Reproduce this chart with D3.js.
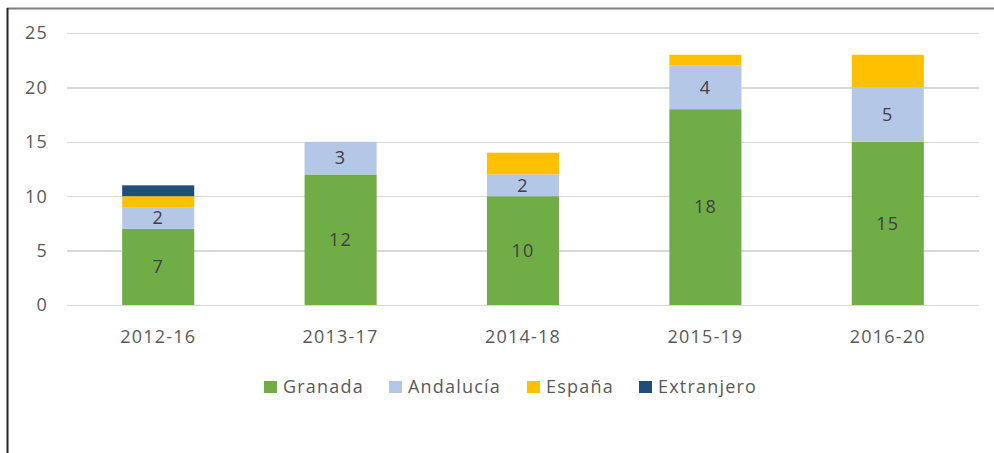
<!DOCTYPE html>
<meta charset="utf-8">
<script src="https://d3js.org/d3.v7.min.js"></script>
<style>
  body { margin: 0; background: #fff; }
  text { font-family: "Open Sans", "DejaVu Sans", sans-serif; fill: #595959; font-size: 18px; letter-spacing: 1.2px; }
  .grid line { stroke: #d9d9d9; stroke-width: 1.5px; shape-rendering: crispEdges; }
  .grid path { stroke-width: 0; }
</style>
<div id="chart"></div>
<script>
  // data
  var periods = ["2012-16", "2013-17", "2014-18", "2015-19", "2016-20"];
  var granada    = [7, 12, 10, 18, 15];
  var andalucia  = [2, 3, 2, 4, 5];
  var espana     = [1, 0, 2, 1, 3];
  var extranjero = [1, 0, 0, 0, 0];
  var seriesNames = ["Granada", "Andalucía", "España", "Extranjero"];
  var colors = ["#70ad47", "#b4c7e7", "#ffc000", "#1f4e79"];
  var yTicks = [0, 5, 10, 15, 20, 25];

  var W = 994, H = 453;
  var margin = {top: 33, right: 15, bottom: 148, left: 67};
  var width = W - margin.left - margin.right,
      height = H - margin.top - margin.bottom;

  var svg = d3.select("#chart").append("svg")
      .attr("width", W).attr("height", H);

  // frame
  svg.append("line").attr("x1", 7).attr("x2", W).attr("y1", 8.5).attr("y2", 8.5)
    .attr("stroke", "#7f7f7f").attr("stroke-width", 2);
  svg.append("line").attr("x1", 7.5).attr("x2", 7.5).attr("y1", 8).attr("y2", H)
    .attr("stroke", "#262626").attr("stroke-width", 2);

  var g = svg.append("g").attr("transform", "translate(" + margin.left + "," + margin.top + ")");

  var rows = periods.map(function(p, i) {
    return {period: p, Granada: granada[i], "Andalucía": andalucia[i],
            "España": espana[i], Extranjero: extranjero[i]};
  });
  var stack = d3.stack().keys(seriesNames)(rows);

  var x = d3.scaleBand().domain(periods).range([0, width])
      .paddingInner(0.605).paddingOuter(0.3025);
  var y = d3.scaleLinear().domain([0, 25]).range([height, 0]);

  // gridlines
  g.append("g").attr("class", "grid")
    .call(d3.axisLeft(y).tickValues(yTicks).tickSize(-width).tickFormat(""));

  // y labels
  g.append("g").selectAll("text").data(yTicks).enter().append("text")
    .attr("x", -19).attr("y", function(d) { return y(d); })
    .attr("dy", "0.35em").attr("text-anchor", "end")
    .text(function(d) { return d; });

  // bars
  var layers = g.selectAll(".layer").data(stack).enter().append("g")
    .attr("fill", function(d, i) { return colors[i]; });
  layers.selectAll("rect").data(function(d) { return d; }).enter().append("rect")
    .attr("x", function(d) { return x(d.data.period); })
    .attr("width", x.bandwidth())
    .attr("y", function(d) { return y(d[1]); })
    .attr("height", function(d) { return y(d[0]) - y(d[1]); });

  // value labels on Granada and Andalucía
  stack.slice(0, 2).forEach(function(s) {
    g.selectAll(null).data(s).enter().append("text")
      .attr("x", function(d) { return x(d.data.period) + x.bandwidth() / 2; })
      .attr("y", function(d) { return (y(d[0]) + y(d[1])) / 2; })
      .attr("dy", "0.35em").attr("text-anchor", "middle")
      .style("fill", "#404040")
      .text(function(d) { return d[1] - d[0]; });
  });

  // x labels
  g.append("g").selectAll("text").data(periods).enter().append("text")
    .attr("x", function(d) { return x(d) + x.bandwidth() / 2; })
    .attr("y", height + 32).attr("dy", "0.35em").attr("text-anchor", "middle")
    .text(function(d) { return d; });

  // legend
  var legendX = [264, 389, 527, 639];
  var leg = svg.append("g").selectAll("g").data(seriesNames).enter().append("g")
    .attr("transform", function(d, i) { return "translate(" + legendX[i] + ",387)"; });
  leg.append("rect").attr("x", 0).attr("y", -6).attr("width", 13).attr("height", 12)
    .attr("fill", function(d, i) { return colors[i]; });
  leg.append("text").attr("x", 19).attr("dy", "0.35em")
    .text(function(d) { return d; });
</script>
